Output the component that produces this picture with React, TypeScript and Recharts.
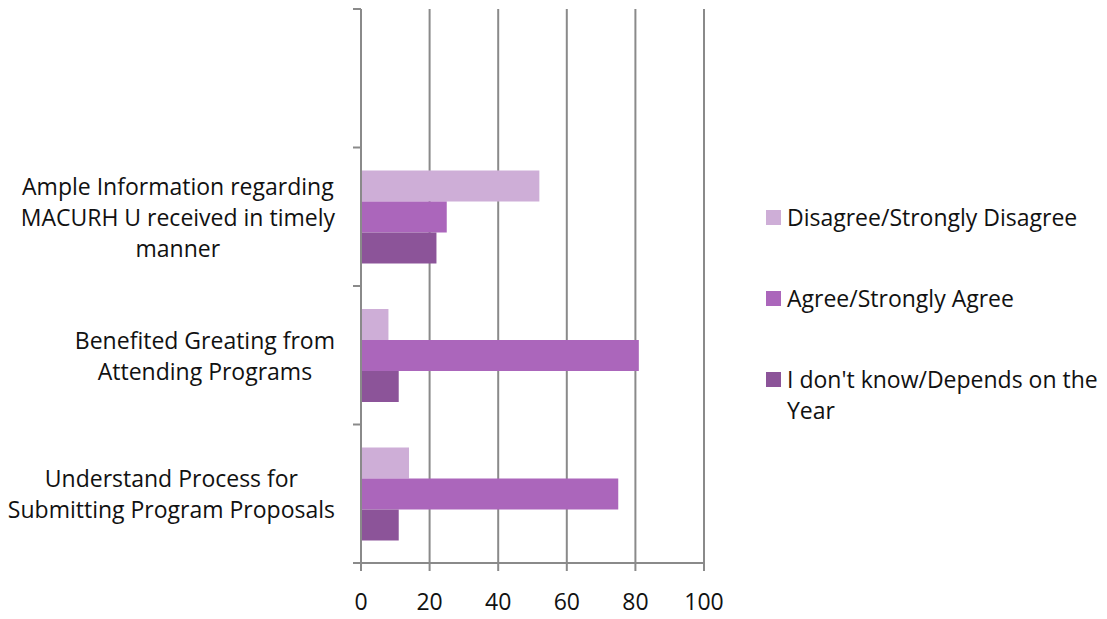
import React from "react";
import { BarChart, Bar, XAxis, YAxis, CartesianGrid } from "recharts";

const CATEGORIES = [
  "",
  "Ample Information regarding MACURH U received in timely manner",
  "Benefited Greating from Attending Programs",
  "Understand Process for Submitting Program Proposals",
];
const CATEGORY_LINES = [
  [],
  ["Ample Information regarding", "MACURH U received in timely", "manner"],
  ["Benefited Greating from", "Attending Programs"],
  ["Understand Process for", "Submitting Program Proposals"],
];
const DISAGREE = [null, 52, 8, 14];
const AGREE = [null, 25, 81, 75];
const DONT_KNOW = [null, 22, 11, 11];
const X_TICKS = [0, 20, 40, 60, 80, 100];

const SERIES = [
  { key: "disagree", name: "Disagree/Strongly Disagree", color: "#CEAED7" },
  { key: "agree", name: "Agree/Strongly Agree", color: "#AB66BB" },
  { key: "dontKnow", name: "I don't know/Depends on the Year", color: "#8C5499" },
];

const data = CATEGORIES.map((c, i) => ({
  name: c,
  disagree: DISAGREE[i],
  agree: AGREE[i],
  dontKnow: DONT_KNOW[i],
}));

const FONT = "'Open Sans', sans-serif";
const FONT_SIZE = 23;
const LINE_H = 31;
const AXIS = "#8a8a8a";

let ctx: CanvasRenderingContext2D | null = null;
function textWidth(s: string): number {
  if (!ctx) ctx = document.createElement("canvas").getContext("2d");
  if (!ctx) return s.length * 11;
  ctx.font = `${FONT_SIZE}px 'Open Sans'`;
  return ctx.measureText(s).width;
}

// eslint-disable-next-line @typescript-eslint/no-explicit-any
function CategoryTick(props: any) {
  const { x, y, payload, index, visibleTicksCount } = props;
  const half = payload.offset || 69;
  const lines = CATEGORY_LINES[index] || [];
  const maxW = Math.max(0, ...lines.map(textWidth));
  const cx = x - 26 - maxW / 2;
  const last = index === (visibleTicksCount ?? CATEGORIES.length) - 1;
  return (
    <g>
      <line x1={x - 8} x2={x} y1={y - half} y2={y - half} stroke={AXIS} strokeWidth={2} />
      {last && <line x1={x - 8} x2={x} y1={y + half} y2={y + half} stroke={AXIS} strokeWidth={2} />}
      {lines.map((l, i) => (
        <text
          key={i}
          x={cx}
          y={y + (i - (lines.length - 1) / 2) * LINE_H}
          textAnchor="middle"
          dominantBaseline="central"
          fontSize={FONT_SIZE}
          fontFamily={FONT}
          fill="#111"
        >
          {l}
        </text>
      ))}
    </g>
  );
}

export default function App() {
  return (
    <div style={{ position: "absolute", left: 0, top: 0, width: 1107, height: 619, background: "#fff", fontFamily: FONT }}>
      <BarChart
        width={1107}
        height={619}
        data={data}
        layout="vertical"
        margin={{ top: 9, right: 403, bottom: 0, left: 0 }}
        barGap={0}
      >
        <CartesianGrid horizontal={false} stroke={AXIS} strokeWidth={2} />
        <XAxis
          type="number"
          domain={[0, 100]}
          ticks={X_TICKS}
          height={56}
          axisLine={{ stroke: AXIS, strokeWidth: 2 }}
          tickLine={{ stroke: AXIS, strokeWidth: 2 }}
          tickSize={8}
          tickMargin={23}
          tick={{ fontSize: FONT_SIZE, fill: "#111", fontFamily: FONT }}
        />
        <YAxis
          type="category"
          dataKey="name"
          width={361}
          axisLine={{ stroke: AXIS, strokeWidth: 2 }}
          tickLine={false}
          tickSize={0}
          tickMargin={0}
          interval={0}
          tick={<CategoryTick />}
        />
        {SERIES.map((s) => (
          <Bar key={s.key} dataKey={s.key} name={s.name} fill={s.color} barSize={31} isAnimationActive={false} />
        ))}
      </BarChart>
      <div style={{ position: "absolute", left: 766, top: 202, width: 341 }}>
        {SERIES.map((s) => (
          <div key={s.key} style={{ display: "flex", alignItems: "flex-start", marginBottom: 50 }}>
            <div style={{ width: 15, height: 15, background: s.color, marginTop: 8, marginRight: 6, flex: "none" }} />
            <div style={{ fontSize: FONT_SIZE, lineHeight: `${LINE_H}px`, color: "#111", width: 318 }}>{s.name}</div>
          </div>
        ))}
      </div>
    </div>
  );
}
